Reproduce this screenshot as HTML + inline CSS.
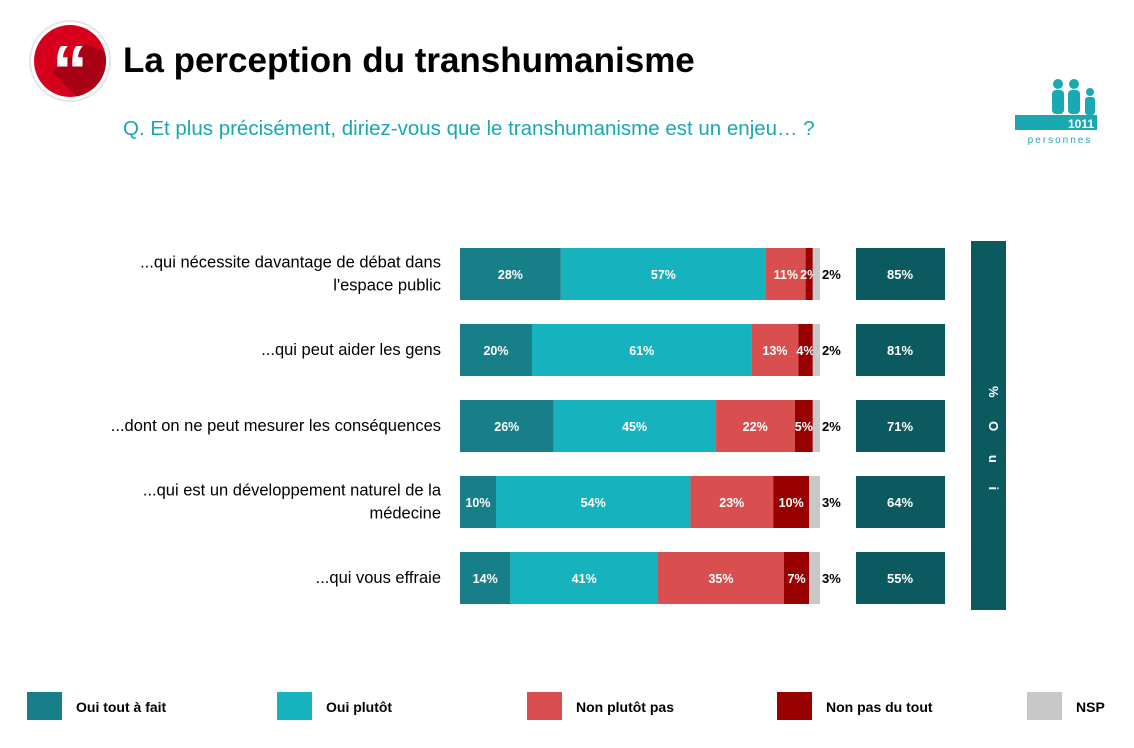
<!DOCTYPE html>
<html><head><meta charset="utf-8"><style>
body{margin:0;background:#fff;font-family:"Liberation Sans",sans-serif;}
svg text{font-family:"Liberation Sans",sans-serif;}
</style></head><body>
<svg id="c" width="1134" height="743" viewBox="0 0 1134 743" xmlns="http://www.w3.org/2000/svg">
<defs><clipPath id="cc"><circle cx="70" cy="61" r="36"/></clipPath></defs>
<g>
<circle cx="70" cy="61" r="40" fill="#fff" stroke="#e6e6e6" stroke-width="2"/>
<circle cx="70" cy="61" r="36" fill="#d6001c"/>
<path d="M52 72 L84 104 L120 104 L120 60 L86 44 Z" fill="#a80014" clip-path="url(#cc)"/>
<text x="70" y="96" text-anchor="middle" font-size="72" font-weight="bold" fill="#fff" font-family="Liberation Serif">“</text>
</g>
<text x="123" y="72" font-size="35" font-weight="bold" fill="#000">La perception du transhumanisme</text>
<text x="123" y="135" font-size="20.5" fill="#16a9b3">Q. Et plus précisément, diriez-vous que le transhumanisme est un enjeu… ?</text>
<g fill="#1aa9b2">
<circle cx="1058" cy="84" r="5"/><rect x="1052" y="90" width="12" height="24" rx="4"/>
<circle cx="1074" cy="84" r="5"/><rect x="1068" y="90" width="12" height="24" rx="4"/>
<circle cx="1090" cy="92" r="4"/><rect x="1085" y="97" width="10" height="18" rx="3"/>
<rect x="1015" y="115" width="82" height="15"/>
<text x="1094" y="128" font-size="12" font-weight="bold" fill="#fff" text-anchor="end">1011</text>
<text x="1060" y="143" font-size="10" letter-spacing="2" text-anchor="middle">personnes</text>
</g>
<g id="bars"></g>
<rect x="971" y="241" width="35" height="369" fill="#0b5a5f"/>
<text transform="translate(989,386) rotate(90)" font-size="13" font-weight="bold" fill="#fff" letter-spacing="10">% O u i</text>
<g id="legend"></g>
</svg>
<script>
const categories=["...qui nécessite davantage de débat dans|l'espace public","...qui peut aider les gens","...dont on ne peut mesurer les conséquences","...qui est un développement naturel de la|médecine","...qui vous effraie"];
const toutAFait=[28,20,26,10,14];
const plutot=[57,61,45,54,41];
const plutotPas=[11,13,22,23,35];
const pasDuTout=[2,4,5,10,7];
const nsp=[2,2,2,3,3];
const ouiTotal=[85,81,71,64,55];
const seriesNames=["Oui tout à fait","Oui plutôt","Non plutôt pas","Non pas du tout","NSP"];
const colors=["#177f87","#16b2bd","#d94f50","#990000","#c8c8c8"];
const NS="http://www.w3.org/2000/svg";
const x0=460, sc=3.6, y0=248, pitch=76, bh=52;
const xs=v=>x0+v*sc;
function mk(t,a,p){const e=document.createElementNS(NS,t);for(const k in a)e.setAttribute(k,a[k]);p.appendChild(e);return e;}
const g=document.getElementById('bars');
const series=[toutAFait,plutot,plutotPas,pasDuTout,nsp];
categories.forEach((cat,i)=>{
  const y=y0+i*pitch;
  const lines=cat.split('|');
  lines.forEach((l,j)=>{
    const t=mk('text',{x:441,y:y+bh/2+5+(j-(lines.length-1)/2)*23,'text-anchor':'end','font-size':16.5,fill:'#000'},g);
    
    
    t.textContent=l;
  });
  let acc=0;
  series.forEach((s,k)=>{
    const v=s[i];
    const r=mk('rect',{x:xs(acc),y:y,width:v*sc,height:bh,fill:colors[k]},g);
    
    
    if(k<4){
      const t=mk('text',{x:xs(acc+v/2),y:y+bh/2+5,'text-anchor':'middle','font-size':12.5,'font-weight':'bold',fill:'#fff'},g);
      
      
      t.textContent=v+'%';
    } else {
      const t=mk('text',{x:xs(acc+v)+2,y:y+bh/2+5,'font-size':13,'font-weight':'bold',fill:'#000'},g);
      
      
      t.textContent=v+'%';
    }
    acc+=v;
  });
  const b=mk('rect',{x:856,y:y,width:89,height:bh,fill:'#0b5a5f'},g);
  
  
  const t=mk('text',{x:900,y:y+bh/2+5,'text-anchor':'middle','font-size':13,'font-weight':'bold',fill:'#fff'},g);
  
  
  t.textContent=ouiTotal[i]+'%';
});
const lg=document.getElementById('legend');
seriesNames.forEach((n,k)=>{
  const x=27+k*250;
  const r=mk('rect',{x:x,y:692,width:35,height:28,fill:colors[k]},lg);
  
  
  const t=mk('text',{x:x+49,y:712,'font-size':14,'font-weight':'bold',fill:'#000'},lg);
  
  
  t.textContent=n;
});
</script>
</body></html>
